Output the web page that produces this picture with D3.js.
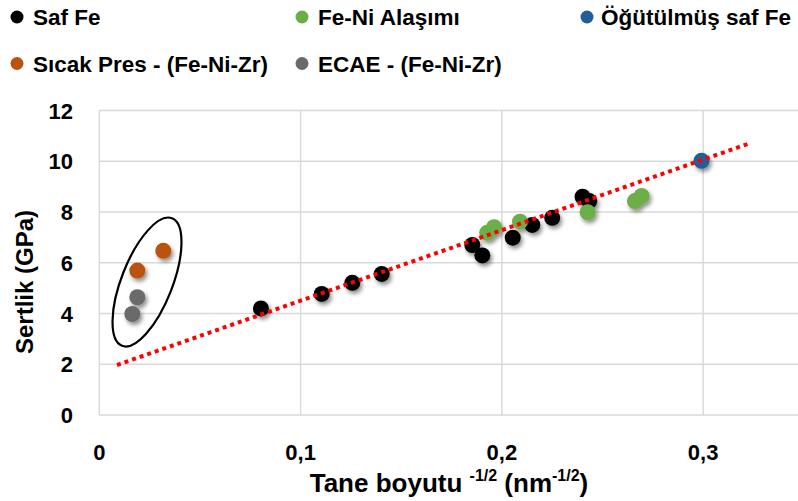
<!DOCTYPE html>
<html><head><meta charset="utf-8">
<script src="https://cdn.jsdelivr.net/npm/d3@7/dist/d3.min.js"></script>
<style>html,body{margin:0;padding:0;background:#fff;overflow:hidden}</style>
</head><body>
<svg id="chart" width="798" height="501"></svg>
<script>
// ---- data ----
const seriesNames = ["Saf Fe", "Fe-Ni Alaşımı", "Öğütülmüş saf Fe", "Sıcak Pres - (Fe-Ni-Zr)", "ECAE - (Fe-Ni-Zr)"];
const seriesColors = ["#000000", "#6CAE46", "#235E96", "#B9530E", "#6A6A6A"];

const safFeX = [0.0803, 0.1105, 0.1257, 0.1403, 0.1853, 0.1903, 0.2054, 0.2151, 0.2250, 0.2401, 0.2434];
const safFeY = [4.20, 4.77, 5.21, 5.56, 6.70, 6.29, 6.99, 7.49, 7.77, 8.60, 8.43];
const feNiX = [0.1927, 0.1961, 0.2090, 0.2426, 0.2661, 0.2694];
const feNiY = [7.18, 7.40, 7.62, 7.99, 8.43, 8.63];
const ogutulmusX = [0.2992];
const ogutulmusY = [10.02];
const sicakPresX = [0.0318, 0.0189];
const sicakPresY = [6.47, 5.69];
const ecaeX = [0.0189, 0.0164];
const ecaeY = [4.64, 3.98];

// linear trendline y = slope * x + intercept over trendRange
const trendSlope = 27.8;
const trendIntercept = 1.725;
const trendRange = [0.0088, 0.3232];

const xTicks = [0, 0.1, 0.2, 0.3];
const xTickLabels = ["0", "0,1", "0,2", "0,3"];
const yTicks = [0, 2, 4, 6, 8, 10, 12];
const yTickLabels = ["0", "2", "4", "6", "8", "10", "12"];
const xTitle = "Tane boyutu ";
const xTitleSup = "-1/2";
const xTitleUnit = "nm";
const yTitle = "Sertlik (GPa)";

// ---- layout ----
const FONT = "'Liberation Sans', Arial, sans-serif";
const svg = d3.select("#chart");
const x = d3.scaleLinear().domain([0, 0.35]).range([99.3, 803.8]);
const y = d3.scaleLinear().domain([0, 12]).range([415, 110.5]);

const defs = svg.append("defs");
const f = defs.append("filter").attr("id", "shadow")
  .attr("x", "-50%").attr("y", "-50%").attr("width", "200%").attr("height", "200%");
f.append("feDropShadow").attr("dx", 2).attr("dy", 3).attr("stdDeviation", 2)
  .attr("flood-color", "#000").attr("flood-opacity", 0.45);

// gridlines
const grid = svg.append("g");
grid.selectAll("line.h").data(yTicks).join("line").attr("class", "h")
  .attr("x1", x(0)).attr("x2", x(0.35))
  .attr("y1", d => y(d)).attr("y2", d => y(d))
  .attr("stroke", "#D9D9D9").attr("stroke-width", 1.4);
grid.selectAll("line.v").data(xTicks).join("line").attr("class", "v")
  .attr("x1", d => x(d)).attr("x2", d => x(d))
  .attr("y1", y(0)).attr("y2", y(12))
  .attr("stroke", "#D9D9D9").attr("stroke-width", 1.4);

// tick labels
svg.append("g").selectAll("text").data(yTicks).join("text")
  .attr("x", 73).attr("y", d => y(d) + 8)
  .attr("text-anchor", "end")
  .attr("font-family", FONT).attr("font-weight", "bold").attr("font-size", 22)
  .attr("fill", "#000")
  .text((d, i) => yTickLabels[i]);
svg.append("g").selectAll("text").data(xTicks).join("text")
  .attr("x", d => x(d)).attr("y", 460)
  .attr("text-anchor", "middle")
  .attr("font-family", FONT).attr("font-weight", "bold").attr("font-size", 22)
  .attr("fill", "#000")
  .text((d, i) => xTickLabels[i]);

// axis titles
const xt = svg.append("text").attr("x", 449).attr("y", 492)
  .attr("text-anchor", "middle")
  .attr("font-family", FONT).attr("font-weight", "bold").attr("font-size", 26)
  .attr("fill", "#000");
xt.append("tspan").text(xTitle);
xt.append("tspan").attr("font-size", 16).attr("dy", -11).text(xTitleSup);
xt.append("tspan").attr("dy", 11).text(" (" + xTitleUnit);
xt.append("tspan").attr("font-size", 16).attr("dy", -11).text(xTitleSup);
xt.append("tspan").attr("dy", 11).text(")");

svg.append("text")
  .attr("transform", "translate(33,282) rotate(-90)")
  .attr("text-anchor", "middle")
  .attr("font-family", FONT).attr("font-weight", "bold").attr("font-size", 24)
  .attr("fill", "#000")
  .text(yTitle);

// points
const seriesX = [safFeX, feNiX, ogutulmusX, sicakPresX, ecaeX];
const seriesY = [safFeY, feNiY, ogutulmusY, sicakPresY, ecaeY];
const pts = svg.append("g").attr("filter", "url(#shadow)");
seriesX.forEach((xs, s) => {
  const data = xs.map((v, i) => ({x: v, y: seriesY[s][i]}));
  pts.append("g").selectAll("circle").data(data).join("circle")
    .attr("cx", d => x(d.x)).attr("cy", d => y(d.y)).attr("r", 8)
    .attr("fill", seriesColors[s]);
});

// trendline
const line = d3.line().x(d => x(d)).y(d => y(trendSlope * d + trendIntercept));
svg.append("path").datum(trendRange).attr("d", line)
  .attr("fill", "none").attr("stroke", "#FF0000").attr("stroke-width", 4)
  .attr("stroke-dasharray", "4,4");

// ellipse annotation around the Fe-Ni-Zr group
const ellCenter = [0.0237, 5.24];
svg.append("ellipse")
  .attr("cx", x(ellCenter[0])).attr("cy", y(ellCenter[1]))
  .attr("rx", 25.5).attr("ry", 68.5)
  .attr("transform", `rotate(21.4 ${x(ellCenter[0])} ${y(ellCenter[1])})`)
  .attr("fill", "none").attr("stroke", "#000").attr("stroke-width", 2.2);

// legend
const legendPos = [[17, 17, 33, 25], [302, 17, 318, 25], [587, 17, 601, 25], [17, 63.5, 33, 72], [302, 63.5, 318, 72]];
const lg = svg.append("g");
seriesNames.forEach((n, i) => {
  const p = legendPos[i];
  lg.append("circle").attr("cx", p[0]).attr("cy", p[1]).attr("r", 6.5).attr("fill", seriesColors[i]);
  lg.append("text").attr("x", p[2]).attr("y", p[3])
    .attr("font-family", FONT).attr("font-weight", "bold").attr("font-size", 22.5)
    .attr("fill", "#000").text(n);
});
</script>
</body></html>
